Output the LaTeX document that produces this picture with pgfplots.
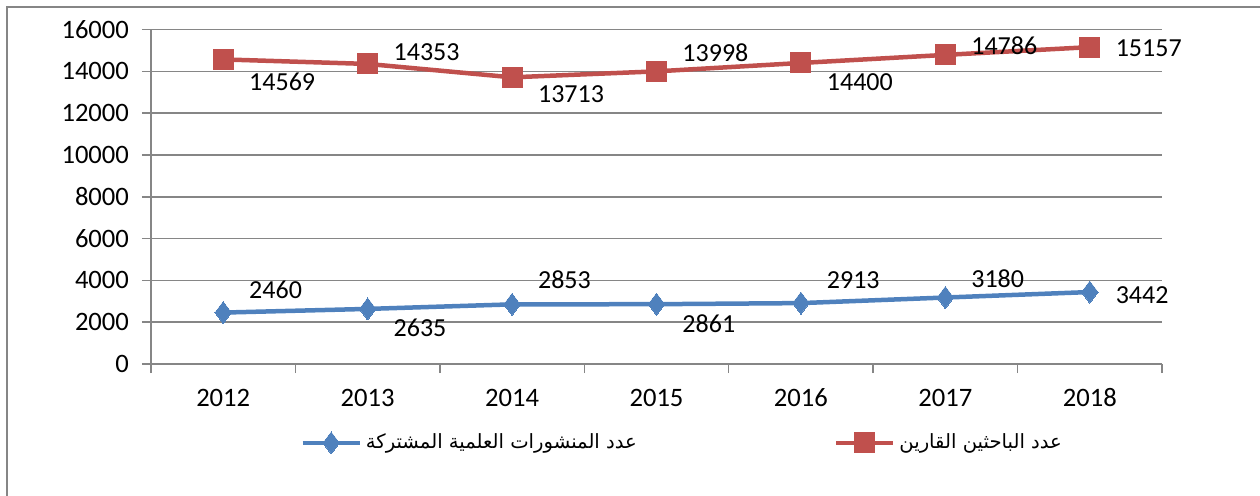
\documentclass[border=0pt]{standalone}
\usepackage{pgfplots}
\pgfplotsset{compat=1.18}
\usepackage{fontspec}
\setmainfont{Carlito}
\newfontfamily\arabicfont[Script=Arabic]{DejaVu Sans}
\TeXXeTstate=1
\definecolor{cred}{HTML}{C0504D}
\definecolor{cblue}{HTML}{4F81BD}
\definecolor{cgrid}{HTML}{868686}
\pgfplotstableread{
x y lab dy
0 2460 2460 11.5
1 2635 2635 -9.5
2 2853 2853 12.5
3 2861 2861 -10
4 2913 2913 11.5
5 3180 3180 9.5
6 3442 3442 -1.5
}\bluedata
\pgfplotstableread{
x y lab dy
0 14569 14569 -11.25
1 14353 14353 6
2 13713 13713 -8.5
3 13998 13998 9.5
4 14400 14400 -9.5
5 14786 14786 4.5
6 15157 15157 -0.5
}\reddata
\begin{document}
\begin{tikzpicture}[x=1pt,y=1pt]
\path[use as bounding box] (0,0) rectangle (630,247.5);
\draw[color=cgrid, line width=0.75pt] (3.5,-10) -- (3.5,244) -- (640,244);
\begin{axis}[
  at={(75.5pt,65.5pt)}, anchor=south west,
  scale only axis, width=505.5pt, height=167.25pt,
  xmin=-0.5, xmax=6.5, ymin=0, ymax=16000,
  clip=false,
  scaled y ticks=false,
  axis x line*=bottom, axis y line*=left,
  ytick={0,2000,...,16000},
  xtick={-0.5,0.5,1.5,2.5,3.5,4.5,5.5,6.5},
  x tick label as interval,
  xticklabels={2012,2013,2014,2015,2016,2017,2018},
  ymajorgrids,
  grid style={cgrid, line width=0.75pt},
  axis line style={cgrid, line width=0.75pt},
  tick style={cgrid, line width=0.75pt},
  major tick length=4.5pt,
  tick align=outside,
  /pgf/number format/assume math mode=true,
  /pgf/number format/1000 sep={},
  ticklabel style={font=\fontsize{13.3}{16}\selectfont, text=black},
  yticklabel style={xshift=-3pt},
  xticklabel style={anchor=north, text height=9pt, text depth=0pt, yshift=-4pt},
  legend columns=2,
  legend cell align=left,
  legend style={at={(axis description cs:0.1474,-0.236)}, anchor=west, draw=none, fill=none, inner sep=0pt,
    /tikz/every odd column/.append style={column sep=0pt}},
  legend image code/.code={\draw[mark repeat=2,mark phase=2] plot coordinates {(0pt,0pt) (14.25pt,0pt) (28.5pt,0pt)};},
]
\addplot[cblue, line width=2.25pt, line join=round, mark=diamond*, mark size=5.5pt, mark options={solid, line width=0pt},
  nodes near coords, point meta=explicit symbolic,
  visualization depends on={\thisrow{dy} \as \dy},
  every node near coord/.append style={font=\fontsize{13}{15}\selectfont, text=black, anchor=west, inner sep=0pt, xshift=13pt, yshift=\dy pt}]
  table[x=x, y=y, meta=lab] {\bluedata};
\addlegendentry{\makebox[232pt][l]{\arabicfont\fontsize{9.8}{12}\selectfont\beginR عدد المنشورات العلمية المشتركة\endR}}
\addplot[cred, line width=2.25pt, line join=round, mark=square*, mark size=5pt, mark options={solid, line width=0pt},
  nodes near coords, point meta=explicit symbolic,
  visualization depends on={\thisrow{dy} \as \dy},
  every node near coord/.append style={font=\fontsize{13}{15}\selectfont, text=black, anchor=west, inner sep=0pt, xshift=13pt, yshift=\dy pt}]
  table[x=x, y=y, meta=lab] {\reddata};
\addlegendentry{\arabicfont\fontsize{9.8}{12}\selectfont\beginR عدد الباحثين القارين\endR}
\end{axis}
\end{tikzpicture}
\end{document}
